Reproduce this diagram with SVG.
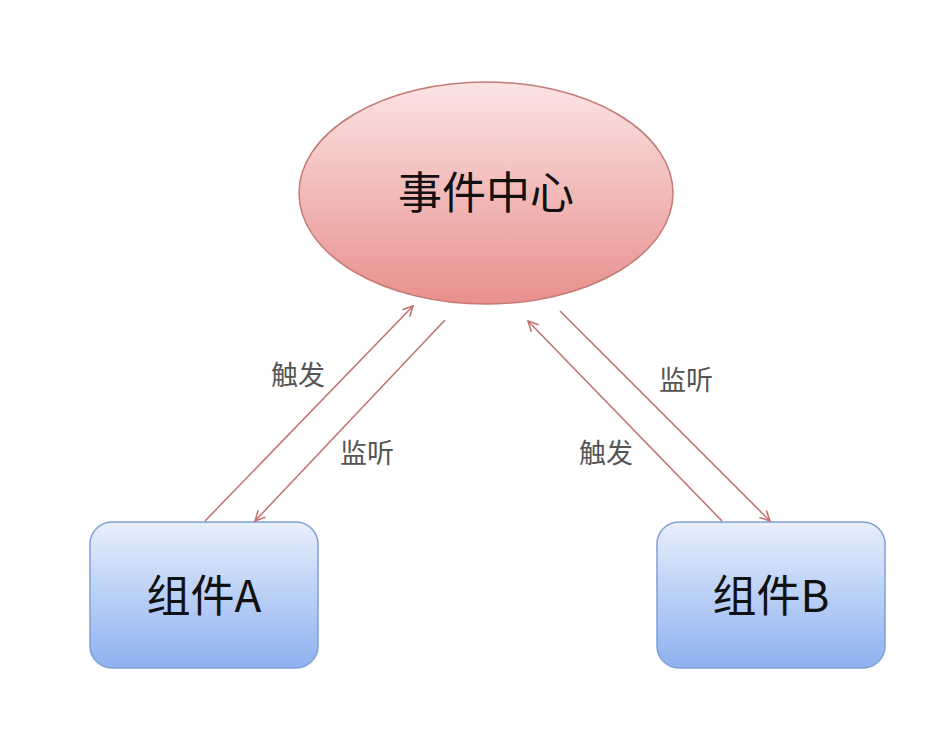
<svg xmlns="http://www.w3.org/2000/svg" width="944" height="750" viewBox="0 0 944 750">
<defs>
<linearGradient id="gr" x1="0" y1="0" x2="0" y2="1"><stop offset="0" stop-color="#fbe4e3"/><stop offset="1" stop-color="#e8908e"/></linearGradient>
<linearGradient id="gb" x1="0" y1="0" x2="0" y2="1"><stop offset="0" stop-color="#e8effc"/><stop offset="1" stop-color="#8db1f0"/></linearGradient>
<marker id="ah" viewBox="0 0 12 12" refX="11" refY="6" markerWidth="12" markerHeight="12" markerUnits="userSpaceOnUse" orient="auto"><path d="M1,1 L11,6 L1,11" fill="none" stroke="#c0706b" stroke-width="1.5"/></marker>
</defs>
<style>
.t{font-family:"Noto Sans CJK SC","Liberation Sans",sans-serif;fill:#111}
.l{font-family:"Noto Sans CJK SC",sans-serif;font-size:27px;fill:#555}
.c{stroke:#c0706b;stroke-width:1.5;fill:none;marker-end:url(#ah)}
</style>
<rect width="944" height="750" fill="#fff"/>
<g id="center"><ellipse cx="486" cy="193" rx="187" ry="111" fill="url(#gr)" stroke="#c47a76" stroke-width="1.5"/><text class="t" x="486" y="209" font-size="44" text-anchor="middle">事件中心</text></g>
<g id="compA"><rect x="90" y="522" width="228" height="146" rx="22" fill="url(#gb)" stroke="#7f9fd6" stroke-width="1.5"/><text class="t" x="204" y="612" font-size="44" text-anchor="middle">组件A</text></g>
<g id="compB"><rect x="657" y="522" width="228" height="146" rx="22" fill="url(#gb)" stroke="#7f9fd6" stroke-width="1.5"/><text class="t" x="771" y="612" font-size="44" text-anchor="middle">组件B</text></g>
<g id="connectors">
<line class="c" x1="205" y1="521" x2="413" y2="306"/>
<line class="c" x1="445" y1="320" x2="255" y2="521"/>
<line class="c" x1="722" y1="521" x2="528" y2="321"/>
<line class="c" x1="560" y1="311" x2="770" y2="521"/>
<text class="l" x="298" y="385" text-anchor="middle">触发</text>
<text class="l" x="367" y="463" text-anchor="middle">监听</text>
<text class="l" x="686" y="390" text-anchor="middle">监听</text>
<text class="l" x="606" y="463" text-anchor="middle">触发</text>
</g>
</svg>
